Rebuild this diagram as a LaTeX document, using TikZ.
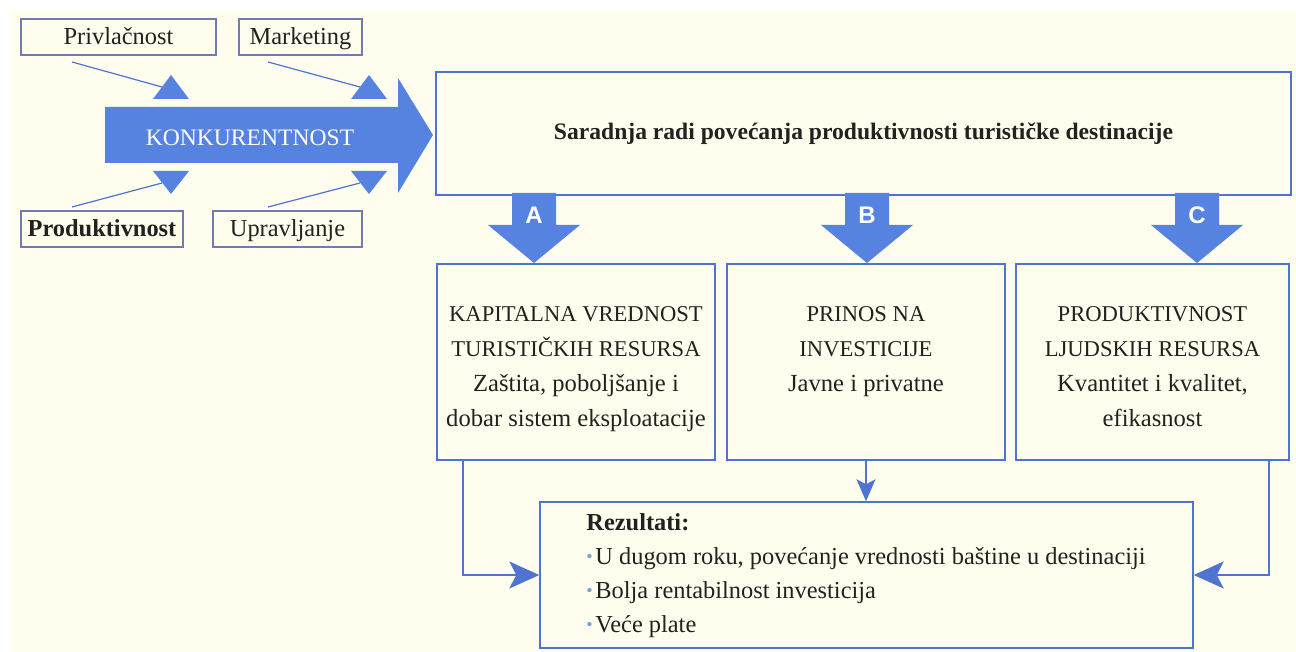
\documentclass[tikz,border=0pt]{standalone}
\usepackage{fontspec}
\setmainfont{Liberation Serif}
\newfontfamily\lettersans{Liberation Sans}
\usetikzlibrary{arrows.meta,calc}

\definecolor{paper}{RGB}{255,254,238}
\definecolor{arrowblue}{RGB}{86,130,224}
\definecolor{lineblue}{RGB}{78,116,208}
\definecolor{framegrey}{RGB}{110,124,176}
\definecolor{ink}{RGB}{36,32,32}
\definecolor{dotblue}{RGB}{120,160,222}

% upper-case heading lines in the three panels are set a little smaller
\newcommand\capline[1]{{\fontsize{11.3}{17.5}\selectfont #1}}
% small blue bullet for the result list
\newcommand\dotitem{\makebox[4.5pt][l]{\textcolor{dotblue}{\raisebox{0.8pt}{\fontsize{9}{9}\selectfont\textbullet}}}}

\tikzset{
  tagbox/.style={draw=framegrey, line width=0.6pt, fill=paper, text=ink, inner sep=0pt,
                 text height=9pt, text depth=1pt, minimum height=18pt,
                 font=\fontsize{12.2}{14}\selectfont},
  panel/.style={draw=lineblue, line width=0.7pt, inner sep=0pt},
  feeder/.style={draw=lineblue, line width=0.6pt},
  link/.style={draw=lineblue, line width=0.9pt},
  bigtip/.style={-{Stealth[length=15pt,width=13.5pt,inset=3.5pt]}},
  smalltip/.style={-{Stealth[length=11pt,width=9.5pt,inset=2.5pt]}},
  paneltext/.style={text=ink, align=center, anchor=base, inner sep=0pt,
                    font=\fontsize{12.3}{17.5}\selectfont},
  letter/.style={text=white, anchor=base, inner sep=0pt,
                 font=\lettersans\bfseries\fontsize{12}{12}\selectfont},
  downarrow/.pic={\fill[arrowblue] (-22,0) -- (22,0) -- (22,32) -- (46,32) -- (0,70)
                   -- (-46,32) -- (-22,32) -- cycle;}
}

\begin{document}
\begin{tikzpicture}[x=0.5pt,y=-0.5pt]
% page and paper tone
\path[use as bounding box, fill=white] (0,0) rectangle (1296,652);
\fill[paper] (10,11) rectangle (1296,652);

% the four factors
\node[tagbox, minimum width=97.5pt] (priv) at (118.5,37) {Privlačnost};
\node[tagbox, minimum width=61.5pt] (mark) at (300.5,37) {Marketing};
\node[tagbox, minimum width=81pt, font=\bfseries\fontsize{12.2}{14}\selectfont] (prod) at (102,229) {Produktivnost};
\node[tagbox, minimum width=74.5pt] (upr) at (287.5,229) {Upravljanje};

% broad arrow of competitiveness
\fill[arrowblue] (105,107) -- (398,107) -- (398,78) -- (433,135) -- (398,193)
  -- (398,163) -- (105,163) -- cycle;
\node[text=white, anchor=base, inner sep=0pt, font=\fontsize{11.8}{14}\selectfont] (konk) at (250,146) {KONKURENTNOST};

% feeder lines with their flat-sided heads
\coordinate (s1) at (72,62);   \coordinate (t1) at (189,99);
\coordinate (s2) at (268,62);  \coordinate (t2) at (387,99);
\coordinate (s3) at (72,207);  \coordinate (t3) at (189,171);
\coordinate (s4) at (268,207); \coordinate (t4) at (387,171);
\draw[feeder] (s1) -- ($(t1)+(-27,-12)$);
\draw[feeder] (s2) -- ($(t2)+(-27,-12)$);
\draw[feeder] (s3) -- ($(t3)+(-27,12)$);
\draw[feeder] (s4) -- ($(t4)+(-27,12)$);
\fill[arrowblue] (t1) -- ++(-18,-24) -- ++(-18,24) -- cycle;
\fill[arrowblue] (t2) -- ++(-18,-24) -- ++(-18,24) -- cycle;
\fill[arrowblue] (t3) -- ++(-18,23) -- ++(-18,-23) -- cycle;
\fill[arrowblue] (t4) -- ++(-18,23) -- ++(-18,-23) -- cycle;

% cooperation box
\node[panel, minimum width=427.5pt, minimum height=61.5pt, text=ink, text height=9pt, text depth=3pt,
      font=\bfseries\fontsize{11.8}{14}\selectfont] (goal) at (863.5,133.5)
      {Saradnja radi povećanja produktivnosti turističke destinacije};

% the three broad down arrows
\pic at (534,193) {downarrow};
\pic at (867,193) {downarrow};
\pic at (1197,193) {downarrow};
\node[letter] (la) at (534,224) {A};
\node[letter] (lb) at (867,224) {B};
\node[letter] (lc) at (1197,224) {C};

% three panels
\node[panel, minimum width=139pt, minimum height=98pt] (kap) at (576,362) {};
\node[panel, minimum width=139pt, minimum height=98pt] (prin) at (866,362) {};
\node[panel, minimum width=136.5pt, minimum height=98pt] (ljud) at (1152.5,362) {};

% (base of a multi-line node is its last line)
\node[paneltext] (kaptext) at ($(kap.north)+(0,163)$)
  {\capline{KAPITALNA VREDNOST}\\\capline{TURISTIČKIH RESURSA}\\Zaštita, poboljšanje i\\dobar sistem eksploatacije};
\node[paneltext] (printext) at ($(prin.north)+(0,128)$)
  {\capline{PRINOS NA}\\\capline{INVESTICIJE}\\Javne i privatne};
\node[paneltext] (ljudtext) at ($(ljud.north)+(0,163)$)
  {\capline{PRODUKTIVNOST}\\\capline{LJUDSKIH RESURSA}\\Kvantitet i kvalitet,\\efikasnost};

% results
\node[panel, minimum width=326.5pt, minimum height=73pt] (res) at (866.5,575) {};
\node[anchor=base west, align=left, text=ink, inner sep=0pt, font=\fontsize{12.2}{17}\selectfont]
  (restext) at (586,632)
  {\textbf{Rezultati:}\\
   \dotitem U dugom roku, povećanje vrednosti baštine u destinaciji\\
   \dotitem Bolja rentabilnost investicija\\
   \dotitem Veće plate};

% links from the panels to the results
\coordinate (kapfoot) at ($(kap.south west)+(27,0)$);
\coordinate (ljudfoot) at ($(ljud.south east)+(-21,0)$);
\draw[link, bigtip] (kapfoot) |- (res.west);
\draw[link, smalltip] (prin.south) -- (prin.south |- res.north);
\draw[link, bigtip] (ljudfoot) |- (res.east);
\end{tikzpicture}
\end{document}
